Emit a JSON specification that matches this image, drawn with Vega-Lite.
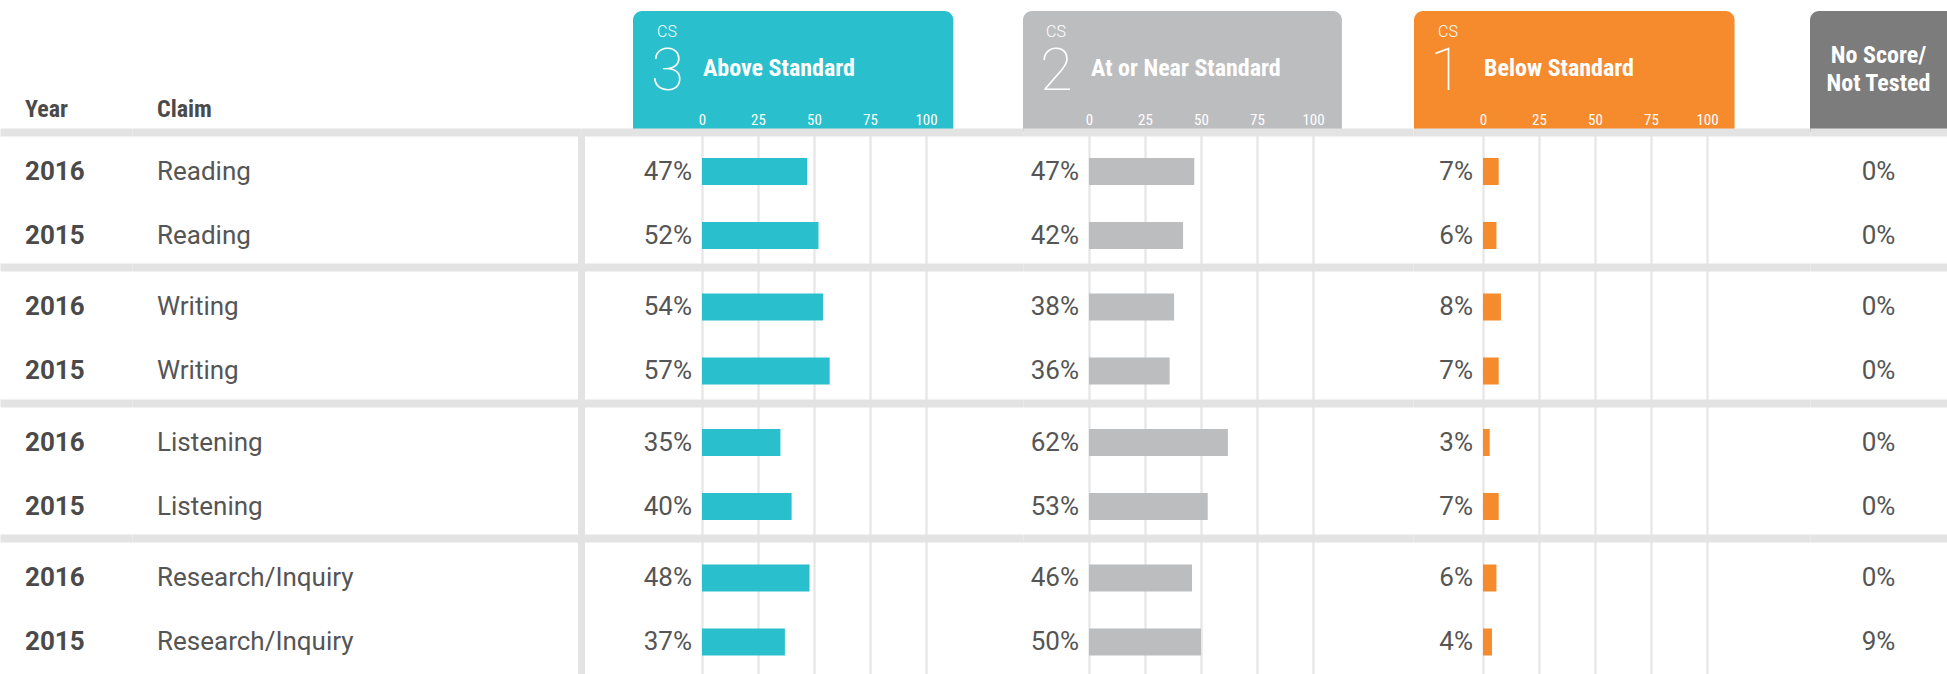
{
  "$schema": "https://vega.github.io/schema/vega-lite/v6.json",
  "padding": 0,
  "background": "white",
  "columns": 6,
  "spacing": 0,
  "bounds": "flush",
  "align": "each",
  "config": {"view": {"stroke": null}, "font": "Roboto"},
  "datasets": {
    "rows": [
      {"year": "2016", "claim": "Reading", "cs3": 0.47, "cs2": 0.47, "cs1": 0.07, "ns": 0},
      {"year": "2015", "claim": "Reading", "cs3": 0.52, "cs2": 0.42, "cs1": 0.06, "ns": 0},
      {"year": "2016", "claim": "Writing", "cs3": 0.54, "cs2": 0.38, "cs1": 0.08, "ns": 0},
      {"year": "2015", "claim": "Writing", "cs3": 0.57, "cs2": 0.36, "cs1": 0.07, "ns": 0},
      {"year": "2016", "claim": "Listening", "cs3": 0.35, "cs2": 0.62, "cs1": 0.03, "ns": 0},
      {"year": "2015", "claim": "Listening", "cs3": 0.40, "cs2": 0.53, "cs1": 0.07, "ns": 0},
      {"year": "2016", "claim": "Research/Inquiry", "cs3": 0.48, "cs2": 0.46, "cs1": 0.06, "ns": 0},
      {"year": "2015", "claim": "Research/Inquiry", "cs3": 0.37, "cs2": 0.50, "cs1": 0.04, "ns": 0.09}
    ]
  },
  "concat": [
    {
      "width": 132, "height": 132,
      "data": {"values": [{"col": "Year"}]},
      "mark": {"type": "text", "align": "left", "baseline": "alphabetic", "y": 117, "font": "Liberation Sans Narrow, Roboto Condensed, Roboto", "fontSize": 24, "fontWeight": "bold", "color": "#4a4a4a"},
      "encoding": {
        "x": {"field": "col", "type": "nominal", "scale": {"type": "point", "domain": ["Year"], "align": 0.1894}, "axis": null},
        "text": {"field": "col"}
      }
    },
    {
      "width": 449, "height": 132,
      "data": {"values": [{"col": "Claim"}]},
      "mark": {"type": "text", "align": "left", "baseline": "alphabetic", "y": 117, "font": "Liberation Sans Narrow, Roboto Condensed, Roboto", "fontSize": 24, "fontWeight": "bold", "color": "#4a4a4a"},
      "encoding": {
        "x": {"field": "col", "type": "nominal", "scale": {"type": "point", "domain": ["Claim"], "align": 0.05568}, "axis": null},
        "text": {"field": "col"}
      }
    },
    {
      "width": 442, "height": 132,
      "data": {"values": [{"level": "3", "label": "Above Standard"}]},
      "encoding": {"x": {"datum": 0, "type": "quantitative", "scale": {"domain": [-0.5402, 1.4330], "zero": false, "nice": false}, "axis": {"orient": "bottom", "values": [0, 0.25, 0.5, 0.75, 1], "labelExpr": "format(datum.value*100, 'd')", "labelColor": "white", "labelFont": "Liberation Sans Narrow, Roboto Condensed, Roboto", "labelFontSize": 15, "labelPadding": -13, "labelBaseline": "middle", "ticks": false, "tickSize": 0, "domain": false, "grid": false, "title": null, "labelFlush": false, "labelOverlap": false, "zindex": 1}}},
      "layer": [
        {"mark": {"type": "rect", "color": "#29bfcc", "cornerRadiusTopLeft": 9, "cornerRadiusTopRight": 9},
         "encoding": {"x": {"datum": -0.308, "type": "quantitative", "scale": {"domain": [-0.5402, 1.4330], "zero": false, "nice": false}}, "x2": {"datum": 1.122}, "y": {"value": 11}, "y2": {"value": "height"}}},
        {"mark": {"type": "text", "text": "CS", "align": "left", "baseline": "alphabetic", "dx": -45, "y": 37, "fontSize": 16, "fontWeight": 300, "color": "white"}},
        {"mark": {"type": "text", "align": "left", "baseline": "alphabetic", "dx": -51, "y": 90, "fontSize": 60, "fontWeight": 100, "color": "white"}, "encoding": {"text": {"field": "level"}}},
        {"mark": {"type": "text", "align": "left", "baseline": "alphabetic", "dx": 1, "y": 76, "font": "Liberation Sans Narrow, Roboto Condensed, Roboto", "fontSize": 24, "fontWeight": "bold", "color": "white"}, "encoding": {"text": {"field": "label"}}}
      ]
    },
    {
      "width": 390, "height": 132,
      "data": {"values": [{"level": "2", "label": "At or Near Standard"}]},
      "encoding": {"x": {"datum": 0, "type": "quantitative", "scale": {"domain": [-0.2946, 1.4464], "zero": false, "nice": false}, "axis": {"orient": "bottom", "values": [0, 0.25, 0.5, 0.75, 1], "labelExpr": "format(datum.value*100, 'd')", "labelColor": "white", "labelFont": "Liberation Sans Narrow, Roboto Condensed, Roboto", "labelFontSize": 15, "labelPadding": -13, "labelBaseline": "middle", "ticks": false, "tickSize": 0, "domain": false, "grid": false, "title": null, "labelFlush": false, "labelOverlap": false, "zindex": 1}}},
      "layer": [
        {"mark": {"type": "rect", "color": "#bcbdbf", "cornerRadiusTopLeft": 9, "cornerRadiusTopRight": 9},
         "encoding": {"x": {"datum": -0.2946, "type": "quantitative", "scale": {"domain": [-0.2946, 1.4464], "zero": false, "nice": false}}, "x2": {"datum": 1.129}, "y": {"value": 11}, "y2": {"value": "height"}}},
        {"mark": {"type": "text", "text": "CS", "align": "left", "baseline": "alphabetic", "dx": -43, "y": 37, "fontSize": 16, "fontWeight": 300, "color": "white"}},
        {"mark": {"type": "text", "align": "left", "baseline": "alphabetic", "dx": -49, "y": 90, "fontSize": 60, "fontWeight": 100, "color": "white"}, "encoding": {"text": {"field": "level"}}},
        {"mark": {"type": "text", "align": "left", "baseline": "alphabetic", "dx": 2, "y": 76, "font": "Liberation Sans Narrow, Roboto Condensed, Roboto", "fontSize": 24, "fontWeight": "bold", "color": "white"}, "encoding": {"text": {"field": "label"}}}
      ]
    },
    {
      "width": 397, "height": 132,
      "data": {"values": [{"level": "1", "label": "Below Standard"}]},
      "encoding": {"x": {"datum": 0, "type": "quantitative", "scale": {"domain": [-0.3125, 1.4598], "zero": false, "nice": false}, "axis": {"orient": "bottom", "values": [0, 0.25, 0.5, 0.75, 1], "labelExpr": "format(datum.value*100, 'd')", "labelColor": "white", "labelFont": "Liberation Sans Narrow, Roboto Condensed, Roboto", "labelFontSize": 15, "labelPadding": -13, "labelBaseline": "middle", "ticks": false, "tickSize": 0, "domain": false, "grid": false, "title": null, "labelFlush": false, "labelOverlap": false, "zindex": 1}}},
      "layer": [
        {"mark": {"type": "rect", "color": "#f58b2d", "cornerRadiusTopLeft": 9, "cornerRadiusTopRight": 9},
         "encoding": {"x": {"datum": -0.308, "type": "quantitative", "scale": {"domain": [-0.3125, 1.4598], "zero": false, "nice": false}}, "x2": {"datum": 1.123}, "y": {"value": 11}, "y2": {"value": "height"}}},
        {"mark": {"type": "text", "text": "CS", "align": "left", "baseline": "alphabetic", "dx": -45, "y": 37, "fontSize": 16, "fontWeight": 300, "color": "white"}},
        {"mark": {"type": "text", "align": "left", "baseline": "alphabetic", "dx": -53, "y": 90, "fontSize": 60, "fontWeight": 100, "color": "white"}, "encoding": {"text": {"field": "level"}}},
        {"mark": {"type": "text", "align": "left", "baseline": "alphabetic", "dx": 1, "y": 76, "font": "Liberation Sans Narrow, Roboto Condensed, Roboto", "fontSize": 24, "fontWeight": "bold", "color": "white"}, "encoding": {"text": {"field": "label"}}}
      ]
    },
    {
      "width": 137, "height": 132,
      "data": {"values": [{"label": "No Score/\nNot Tested"}]},
      "layer": [
        {"mark": {"type": "rect", "color": "#7b7c7b", "cornerRadiusTopLeft": 9},
         "encoding": {"x": {"value": 0}, "x2": {"value": "width"}, "y": {"value": 11}, "y2": {"value": "height"}}},
        {"mark": {"type": "text", "align": "center", "baseline": "alphabetic", "y": 63, "lineBreak": "\n", "lineHeight": 28, "font": "Liberation Sans Narrow, Roboto Condensed, Roboto", "fontSize": 24, "fontWeight": "bold", "color": "white"}, "encoding": {"text": {"field": "label"}}}
      ]
    },
    {
      "width": 132, "height": 542,
      "data": {"name": "rows"},
      "mark": {"type": "text", "align": "left", "baseline": "middle", "fontSize": 26, "fontWeight": "bold", "color": "#4a4a4a"},
      "encoding": {
        "y": {"field": "claim", "type": "nominal", "scale": {"type": "band", "domain": ["Reading", "Writing", "Listening", "Research/Inquiry"], "paddingInner": 0, "paddingOuter": 0}, "axis": {"orient": "left", "title": null, "labels": false, "ticks": false, "domain": false, "grid": true, "gridColor": "#e3e3e3", "gridWidth": 8, "bandPosition": 0}},
        "yOffset": {"field": "year", "type": "nominal", "scale": {"type": "band", "domain": ["2016", "2015"], "paddingInner": 0, "paddingOuter": 0.0586, "align": 1}},
        "x": {"datum": "Year", "type": "nominal", "scale": {"type": "point", "domain": ["Year"], "align": 0.1894}, "axis": null},
        "text": {"field": "year"}
      }
    },
    {
      "width": 449, "height": 542,
      "data": {"name": "rows"},
      "mark": {"type": "text", "align": "left", "baseline": "middle", "fontSize": 26, "color": "#555555"},
      "encoding": {
        "y": {"field": "claim", "type": "nominal", "scale": {"type": "band", "domain": ["Reading", "Writing", "Listening", "Research/Inquiry"], "paddingInner": 0, "paddingOuter": 0}, "axis": {"orient": "right", "title": null, "labels": false, "ticks": false, "domain": true, "domainColor": "#e3e3e3", "domainWidth": 7, "grid": true, "gridColor": "#e3e3e3", "gridWidth": 8, "bandPosition": 0}},
        "yOffset": {"field": "year", "type": "nominal", "scale": {"type": "band", "domain": ["2016", "2015"], "paddingInner": 0, "paddingOuter": 0.0586, "align": 1}},
        "x": {"datum": "Claim", "type": "nominal", "scale": {"type": "point", "domain": ["Claim"], "align": 0.05568}, "axis": null},
        "text": {"field": "claim"}
      }
    },
    {
      "width": 442, "height": 542,
      "data": {"name": "rows"},
      "encoding": {
        "y": {"field": "claim", "type": "nominal", "scale": {"type": "band", "domain": ["Reading", "Writing", "Listening", "Research/Inquiry"], "paddingInner": 0, "paddingOuter": 0}, "axis": {"orient": "left", "title": null, "labels": false, "ticks": false, "domain": false, "grid": true, "gridColor": "#e3e3e3", "gridWidth": 8, "bandPosition": 0}},
        "yOffset": {"field": "year", "type": "nominal", "scale": {"type": "band", "domain": ["2016", "2015"], "paddingInner": 0, "paddingOuter": 0.0586, "align": 1}}
      },
      "layer": [
        {"mark": {"type": "bar", "color": "#29bfcc", "size": 27},
         "encoding": {"x": {"field": "cs3", "type": "quantitative", "scale": {"domain": [-0.5402, 1.4330], "zero": false, "nice": false}, "axis": {"orient": "bottom", "values": [0, 0.25, 0.5, 0.75, 1], "grid": true, "gridColor": "#e6e6e6", "gridWidth": 2.3, "labels": false, "ticks": false, "domain": false, "title": null}}}},
        {"mark": {"type": "text", "align": "right", "baseline": "middle", "dx": -10, "fontSize": 26, "color": "#555555"},
         "encoding": {"x": {"datum": 0, "type": "quantitative"}, "text": {"field": "cs3", "type": "quantitative", "format": ".0%"}}}
      ]
    },
    {
      "width": 390, "height": 542,
      "data": {"name": "rows"},
      "encoding": {
        "y": {"field": "claim", "type": "nominal", "scale": {"type": "band", "domain": ["Reading", "Writing", "Listening", "Research/Inquiry"], "paddingInner": 0, "paddingOuter": 0}, "axis": {"orient": "left", "title": null, "labels": false, "ticks": false, "domain": false, "grid": true, "gridColor": "#e3e3e3", "gridWidth": 8, "bandPosition": 0}},
        "yOffset": {"field": "year", "type": "nominal", "scale": {"type": "band", "domain": ["2016", "2015"], "paddingInner": 0, "paddingOuter": 0.0586, "align": 1}}
      },
      "layer": [
        {"mark": {"type": "bar", "color": "#bcbdbf", "size": 27},
         "encoding": {"x": {"field": "cs2", "type": "quantitative", "scale": {"domain": [-0.2946, 1.4464], "zero": false, "nice": false}, "axis": {"orient": "bottom", "values": [0, 0.25, 0.5, 0.75, 1], "grid": true, "gridColor": "#e6e6e6", "gridWidth": 2.3, "labels": false, "ticks": false, "domain": false, "title": null}}}},
        {"mark": {"type": "text", "align": "right", "baseline": "middle", "dx": -10, "fontSize": 26, "color": "#555555"},
         "encoding": {"x": {"datum": 0, "type": "quantitative"}, "text": {"field": "cs2", "type": "quantitative", "format": ".0%"}}}
      ]
    },
    {
      "width": 397, "height": 542,
      "data": {"name": "rows"},
      "encoding": {
        "y": {"field": "claim", "type": "nominal", "scale": {"type": "band", "domain": ["Reading", "Writing", "Listening", "Research/Inquiry"], "paddingInner": 0, "paddingOuter": 0}, "axis": {"orient": "left", "title": null, "labels": false, "ticks": false, "domain": false, "grid": true, "gridColor": "#e3e3e3", "gridWidth": 8, "bandPosition": 0}},
        "yOffset": {"field": "year", "type": "nominal", "scale": {"type": "band", "domain": ["2016", "2015"], "paddingInner": 0, "paddingOuter": 0.0586, "align": 1}}
      },
      "layer": [
        {"mark": {"type": "bar", "color": "#f58b2d", "size": 27},
         "encoding": {"x": {"field": "cs1", "type": "quantitative", "scale": {"domain": [-0.3125, 1.4598], "zero": false, "nice": false}, "axis": {"orient": "bottom", "values": [0, 0.25, 0.5, 0.75, 1], "grid": true, "gridColor": "#e6e6e6", "gridWidth": 2.3, "labels": false, "ticks": false, "domain": false, "title": null}}}},
        {"mark": {"type": "text", "align": "right", "baseline": "middle", "dx": -10, "fontSize": 26, "color": "#555555"},
         "encoding": {"x": {"datum": 0, "type": "quantitative"}, "text": {"field": "cs1", "type": "quantitative", "format": ".0%"}}}
      ]
    },
    {
      "width": 137, "height": 542,
      "data": {"name": "rows"},
      "mark": {"type": "text", "align": "center", "baseline": "middle", "fontSize": 26, "color": "#555555"},
      "encoding": {
        "y": {"field": "claim", "type": "nominal", "scale": {"type": "band", "domain": ["Reading", "Writing", "Listening", "Research/Inquiry"], "paddingInner": 0, "paddingOuter": 0}, "axis": {"orient": "left", "title": null, "labels": false, "ticks": false, "domain": false, "grid": true, "gridColor": "#e3e3e3", "gridWidth": 8, "bandPosition": 0}},
        "yOffset": {"field": "year", "type": "nominal", "scale": {"type": "band", "domain": ["2016", "2015"], "paddingInner": 0, "paddingOuter": 0.0586, "align": 1}},
        "text": {"field": "ns", "type": "quantitative", "format": ".0%"}
      }
    }
  ]
}
